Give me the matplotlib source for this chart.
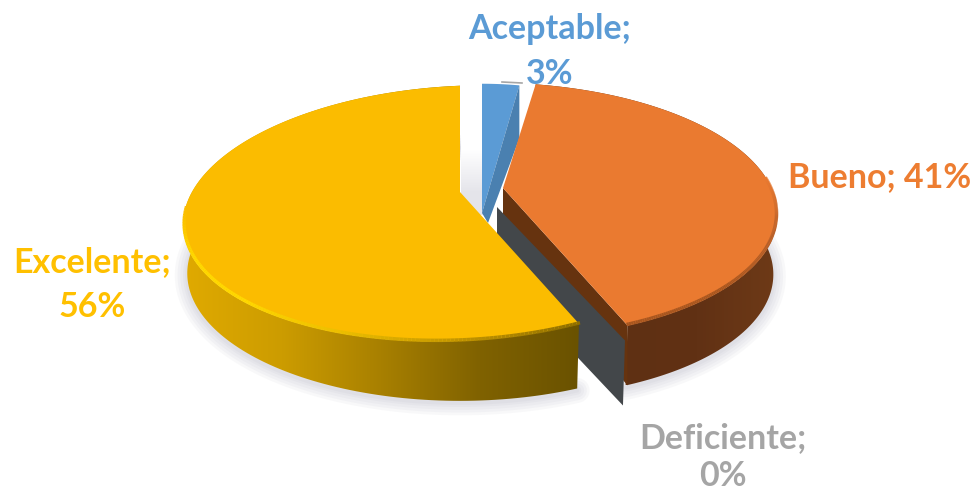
import numpy as np
import matplotlib
matplotlib.use("Agg")
import matplotlib.pyplot as plt
from matplotlib.collections import LineCollection
from matplotlib.colors import LinearSegmentedColormap
from matplotlib.patches import Polygon

plt.rcParams['font.family'] = ['Lato', 'DejaVu Sans']

categories = ['Aceptable', 'Bueno', 'Deficiente', 'Excelente']
percents = [3, 41, 0, 56]

# Perspective of the disc
RX = 273.0
RY = 124.0
P = 0.167
DEPTH = 60


def rim(start, end, cx, cy, sx=1.0, shear=0.0, tilt=0.0, n=160):
    # points along the outer edge, angles clockwise from the top
    t = np.radians(np.linspace(start, end, n))
    w = 1 + P * np.cos(t)
    dy = -RY * np.cos(t) / w
    dx = RX * sx * np.sin(t) / w
    return np.column_stack([cx + dx + shear * dy, cy + dy + tilt * dx])


def lowered(top, depth, shrink, cx):
    # same rim moved down to the base and pulled in a little
    low = top.copy()
    low[:, 0] = cx + (low[:, 0] - cx) * shrink
    low[:, 1] += depth
    return low


def gradient_fill(ax, pts, stops, zorder):
    # horizontal gradient clipped to the given outline
    x0, x1 = pts[:, 0].min(), pts[:, 0].max()
    y0, y1 = pts[:, 1].min(), pts[:, 1].max()
    cmap = LinearSegmentedColormap.from_list('wall', stops)
    im = ax.imshow(np.linspace(0, 1, 256)[None, :], cmap=cmap, aspect='auto',
                   extent=(x0, x1, y1, y0), zorder=zorder, interpolation='bilinear')
    im.set_clip_path(Polygon(pts, closed=True, transform=ax.transData))


def soft_shadow(ax, pts):
    # blurred contact shadow along the base of a slice
    for lw in [18, 14, 10, 6, 3]:
        ax.plot(pts[:, 0], pts[:, 1] + 2, color='#80809a', lw=lw, alpha=0.05,
                solid_capstyle='round', zorder=1)


def bevel(ax, pts, stops, lw, zorder):
    # rounded edge of the top face, coloured along the rim
    cmap = LinearSegmentedColormap.from_list('bevel', stops)
    segs = np.stack([pts[:-1], pts[1:]], axis=1)
    lc = LineCollection(segs, colors=cmap(np.linspace(0, 1, len(segs))), lw=lw,
                        capstyle='butt', zorder=zorder)
    ax.add_collection(lc)


fig = plt.figure(figsize=(9.74, 4.92), dpi=100)
ax = fig.add_axes([0, 0, 1, 1])
ax.set_xlim(0, 974)
ax.set_ylim(492, 0)
ax.axis('off')

# cumulative angles of the slices
edges = np.concatenate([[0], np.cumsum(percents)]) * 3.6
ang = {c: (edges[i], edges[i + 1]) for i, c in enumerate(categories)}

# Outlines of the two big slices
a0, a1 = ang['Excelente']
exc_top = rim(a0, a1, 460, 192, tilt=-0.04)
exc_low = lowered(rim(a0, a1, 460, 192), DEPTH, 0.985, 460)
a0, a1 = ang['Bueno']
bue_top = rim(a0, a1, 499, 189, shear=0.07)
bue_low = lowered(bue_top, DEPTH, 0.985, 499)

# only the front half of each rim is bevelled
exc_front = rim(ang['Excelente'][0], 268, 461, 191, tilt=-0.04)
bue_front = rim(85, ang['Bueno'][1], 498, 188, shear=0.07)

soft_shadow(ax, exc_low)
soft_shadow(ax, bue_low[bue_low[:, 0] > 600])

# shadow in the gap behind the small slice
ax.imshow(np.array([[0.0], [1.0]]), cmap=LinearSegmentedColormap.from_list('gap', ['#ffffff', '#e4e4ea']),
          aspect='auto', extent=(461, 483, 215, 128), zorder=1, interpolation='bilinear')

# Aceptable
a0, a1 = ang['Aceptable']
ace_top = rim(a0, a1, 482, 190, sx=0.85)
ace_apex = np.array([[482, 213]])
ace_side = np.vstack([ace_top[-1:], ace_top[-1:] + [0, 53], [[488, 223]], ace_apex])
ax.add_patch(Polygon(np.vstack([ace_apex, ace_top]), closed=True, fc='#5B9BD5', ec='none', zorder=2))
ax.add_patch(Polygon(ace_side, closed=True, fc='#4A80B0', ec='none', zorder=3))
ax.plot([502, 522], [82, 83], color='#A6A6A6', lw=1.2, zorder=3)

# Bueno
bue_apex = np.array([[503, 188]])
bue_wall = np.vstack([bue_top, bue_low[::-1]])
gradient_fill(ax, bue_wall, ['#5A2E12', '#5F3013', '#613114', '#6E3A17'], 3)
ax.add_patch(Polygon(np.vstack([bue_apex, bue_apex + [0, 48], bue_top[-1:] + [0, DEPTH], bue_top[-1:]]),
                     closed=True, fc='#66330F', ec='none', zorder=4))
ax.add_patch(Polygon(np.vstack([bue_apex, bue_top]), closed=True, fc='#EA7A30', ec='none', zorder=5))
bevel(ax, bue_front, ['#EA7A30', '#B8602A', '#A8561F', '#A8561F'], 2.5, 5.5)

# Deficiente, only the cut face shows at 0%
a0, a1 = ang['Deficiente']
dfc_rim = rim(a0, a1, 506, 204, n=2)[0]
dfc_apex = np.array([497, 207])
ax.add_patch(Polygon([dfc_apex, dfc_rim, dfc_rim + [-2, 65], dfc_apex + [0, 65]], closed=True,
                     fc='#43474A', ec='none', zorder=6))

# Excelente
exc_wall = np.vstack([exc_top, exc_low[::-1]])
gradient_fill(ax, exc_wall, ['#E0AA00', '#CC9C00', '#A88000', '#806200', '#6A5200'], 7)
ax.add_patch(Polygon(np.vstack([[[460, 192]], exc_top]), closed=True, fc='#FBBC00', ec='none', zorder=8))
bevel(ax, exc_front, ['#8F6E00', '#C29500', '#EDBF00', '#FFD800', '#FFDA00', '#FBBC00'], 2.5, 8.5)

# labels
lab = dict(fontsize=24.5, fontweight='bold', ha='center', va='center')
ax.text(550, 29, 'Aceptable;', color='#5B9BD5', **lab)
ax.text(550, 74, f'{percents[0]}%', color='#5B9BD5', **lab)
ax.text(880, 177, f'Bueno; {percents[1]}%', color='#ED7D31', **lab)
ax.text(723, 438, 'Deficiente;', color='#A5A5A5', **lab)
ax.text(723, 476, f'{percents[2]}%', color='#A5A5A5', **lab)
ax.text(92, 262, 'Excelente;', color='#FFC000', **lab)
ax.text(92, 307, f'{percents[3]}%', color='#FFC000', **lab)

fig.savefig('out.png', dpi=100)
